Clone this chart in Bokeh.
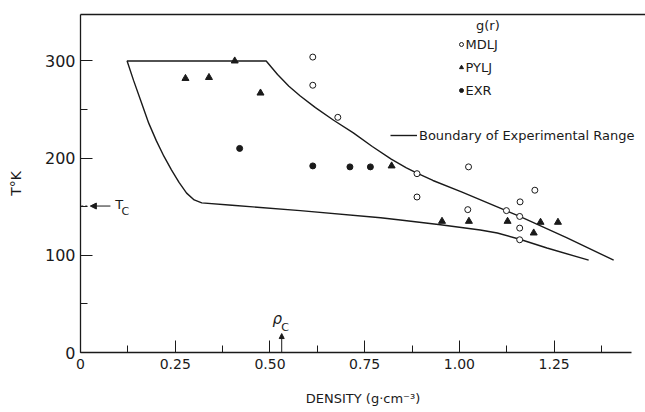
from bokeh.plotting import figure
from bokeh.models import (LinearAxis, FixedTicker, Range1d, Label, Legend,
                          LegendItem, Arrow, NormalHead)
from bokeh.embed import file_html
from bokeh.resources import INLINE

# ---------------- data ----------------
mdlj_density = [0.613, 0.613, 0.679, 0.888, 0.888, 1.024, 1.022, 1.124, 1.159, 1.160, 1.159, 1.159, 1.199]
mdlj_temp = [304, 275, 242, 184, 160, 191, 147, 146, 140, 155, 128, 116, 167]

pylj_density = [0.277, 0.339, 0.407, 0.475, 0.821, 0.954, 1.025, 1.127, 1.214, 1.260, 1.196]
pylj_temp = [282, 283, 300, 267, 192, 135, 135, 135, 134, 134, 123]

exr_density = [0.420, 0.613, 0.711, 0.765]
exr_temp = [210, 192, 191, 191]

# boundary of experimental range: upper curve (right to left), top edge, lower curve
boundary_density = [1.407, 1.284, 1.159, 1.007, 0.930, 0.888, 0.860, 0.820, 0.770, 0.720,
                    0.668, 0.620, 0.580, 0.550, 0.520, 0.490,
                    0.123, 0.140, 0.160, 0.180, 0.200, 0.220, 0.240, 0.260, 0.280, 0.300,
                    0.320, 0.400, 0.580, 0.792, 0.844, 0.950, 1.055, 1.100, 1.159, 1.231, 1.341]
boundary_temp = [95, 118, 140, 165, 177, 184.5, 190, 199, 212, 226,
                 239, 252, 264, 274, 286, 300,
                 300, 280, 258, 236, 218, 202, 188, 175, 164, 157,
                 154, 151.5, 146, 138.7, 136.4, 131.5, 126, 123, 116.5, 107.5, 95]

x_ticks = [0, 0.25, 0.5, 0.75, 1.0, 1.25]
x_tick_labels = ["0", "0.25", "0.50", "0.75", "1.00", "1.25"]
x_minor_ticks = [0.125, 0.375, 0.625, 0.875, 1.125, 1.375]
y_ticks = [0, 100, 200, 300]
y_tick_labels = ["0", "100", "200", "300"]
y_minor_ticks = [50, 150, 250]

T_C = 150.7
RHO_C = 0.531

FONT = "DejaVu Sans"
INK = "#1a1a1a"

# ---------------- figure ----------------
p = figure(width=645, height=412, output_backend="svg", toolbar_location=None,
           x_range=Range1d(0, 1.491), y_range=Range1d(0, 347.8),
           min_border_left=80, min_border_right=0, min_border_top=14, min_border_bottom=60,
           x_axis_label="DENSITY (g\u00b7cm\u207b\u00b3)", y_axis_label="T\u00b0K")
p.xgrid.visible = False
p.ygrid.visible = False
p.outline_line_color = None
p.background_fill_color = "white"
p.border_fill_color = "white"

xa = p.xaxis[0]
xa.ticker = FixedTicker(ticks=x_ticks, minor_ticks=x_minor_ticks)
xa.major_label_overrides = {t: s for t, s in zip(x_ticks, x_tick_labels)}
xa.bounds = (0, 1.455)
ya = p.yaxis[0]
ya.ticker = FixedTicker(ticks=y_ticks, minor_ticks=y_minor_ticks)
ya.major_label_overrides = {t: s for t, s in zip(y_ticks, y_tick_labels)}

for ax in (xa, ya):
    ax.major_tick_in = 12
    ax.major_tick_out = 0
    ax.minor_tick_in = 7
    ax.minor_tick_out = 0
    ax.axis_line_color = INK
    ax.major_tick_line_color = INK
    ax.minor_tick_line_color = INK
    ax.axis_line_width = 1.3
    ax.major_label_text_font = FONT
    ax.major_label_text_color = INK
    ax.axis_label_text_font = FONT
    ax.axis_label_text_font_style = "normal"
    ax.axis_label_text_color = INK

xa.major_label_text_font_size = "14px"
xa.major_label_standoff = 6
xa.axis_label_text_font_size = "13px"
xa.axis_label_standoff = 19
ya.major_label_text_font_size = "16px"
ya.major_label_standoff = 5
ya.axis_label_text_font_size = "14px"
ya.axis_label_standoff = 18

top = LinearAxis(ticker=FixedTicker(ticks=[], minor_ticks=[]), major_label_text_font_size="0px",
                 major_tick_out=0, minor_tick_out=0, major_label_standoff=0,
                 axis_line_color=INK, axis_line_width=1.3)
p.add_layout(top, "above")

# ---------------- glyphs ----------------
r_bound = p.line(boundary_density, boundary_temp, line_color=INK, line_width=1.4)
r_md = p.scatter(mdlj_density, mdlj_temp, marker="circle", size=6, fill_color="white",
                 line_color=INK, line_width=1)
r_py = p.scatter(pylj_density, pylj_temp, marker="triangle", size=7, fill_color=INK,
                 line_color=INK)
r_ex = p.scatter(exr_density, exr_temp, marker="circle", size=6, fill_color=INK,
                 line_color=INK)

# ---------------- legends ----------------
leg1 = Legend(items=[LegendItem(label="MDLJ", renderers=[r_md]),
                     LegendItem(label="PYLJ", renderers=[r_py]),
                     LegendItem(label="EXR", renderers=[r_ex])],
              location=(375.5, 251.7), glyph_width=10, glyph_height=20, label_height=20,
              spacing=3, padding=0, margin=0, label_standoff=0,
              label_text_font=FONT, label_text_font_size="13px", label_text_color=INK,
              background_fill_alpha=0, border_line_color=None)
leg2 = Legend(items=[LegendItem(label="Boundary of Experimental Range", renderers=[r_bound])],
              location=(310, 207), glyph_width=27, glyph_height=20, label_height=20,
              padding=0, margin=0, label_standoff=2,
              label_text_font=FONT, label_text_font_size="13px", label_text_color=INK,
              background_fill_alpha=0, border_line_color=None)
p.add_layout(leg1, "center")
p.add_layout(leg2, "center")

p.add_layout(Label(x=1.075, y=336.5, text="g(r)", text_align="center", text_baseline="middle",
                   text_font=FONT, text_font_size="13px", text_color=INK))

# T_c marker
p.add_layout(Arrow(end=None, x_start=0.002, y_start=T_C, x_end=0.022, y_end=T_C,
                   line_color=INK, line_width=1, line_dash="2 2"))
p.add_layout(Arrow(end=NormalHead(size=6, fill_color=INK, line_color=INK), x_start=0.079,
                   y_start=T_C, x_end=0.026, y_end=T_C, line_color=INK, line_width=1))
p.add_layout(Label(x=0.092, y=T_C + 2, text="T", text_align="left", text_baseline="middle",
                   text_font=FONT, text_font_size="13px", text_color=INK))
p.add_layout(Label(x=0.108, y=T_C - 6, text="C", text_align="left", text_baseline="middle",
                   text_font=FONT, text_font_size="11px", text_color=INK))

# rho_c marker
p.add_layout(Arrow(end=NormalHead(size=5, fill_color=INK, line_color=INK), x_start=RHO_C,
                   y_start=0, x_end=RHO_C, y_end=19.5, line_color=INK, line_width=1))
p.add_layout(Label(x=0.519, y=34, text="\u03c1", text_align="center", text_baseline="middle",
                   text_font=FONT, text_font_style="italic", text_font_size="15px", text_color=INK))
p.add_layout(Label(x=0.53, y=25.7, text="C", text_align="left", text_baseline="middle",
                   text_font=FONT, text_font_size="11px", text_color=INK))

open("out.html", "w").write(file_html(p, INLINE))
